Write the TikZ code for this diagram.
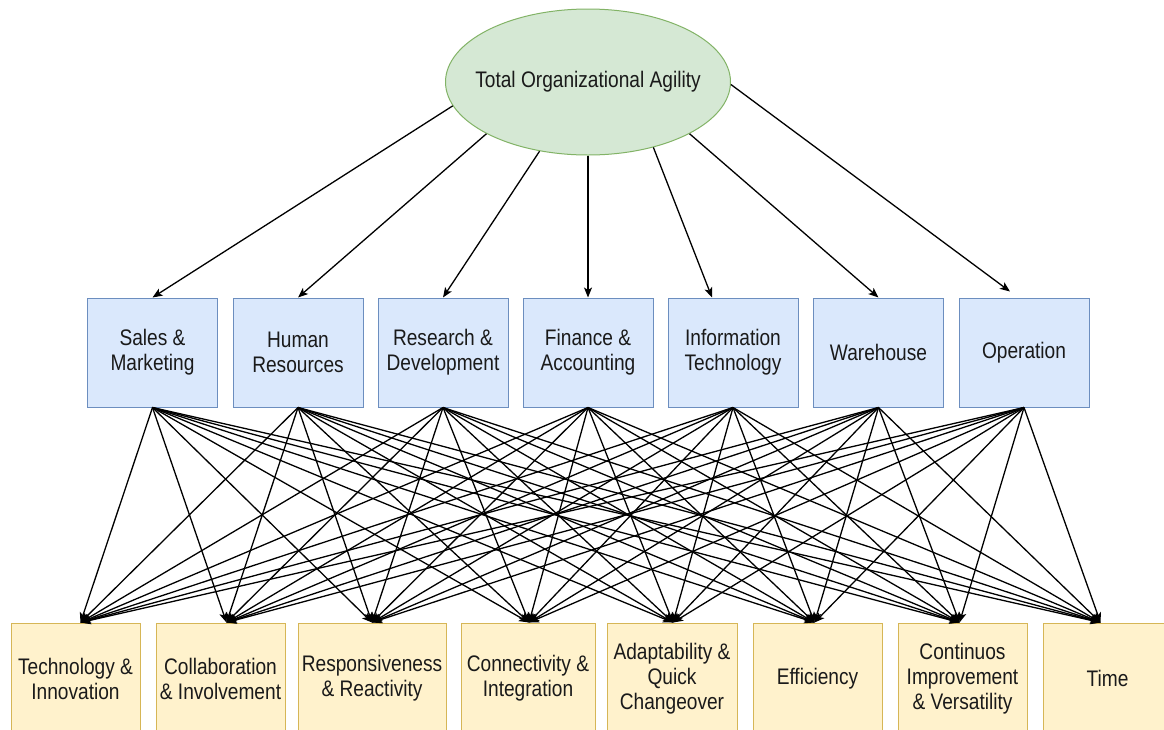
\documentclass[tikz,border=0pt]{standalone}
\usepackage{fontspec}
\setmainfont[FakeStretch=0.85]{Liberation Sans}
\usetikzlibrary{shapes.geometric,arrows.meta,calc}
\definecolor{elfill}{HTML}{D5E8D4}
\definecolor{elline}{HTML}{82B366}
\definecolor{bluefill}{HTML}{DAE8FC}
\definecolor{blueline}{HTML}{6C8EBF}
\definecolor{yelfill}{HTML}{FFF2CC}
\definecolor{yelline}{HTML}{D6B656}
\definecolor{txt}{HTML}{1A1A1A}
\begin{document}
\begin{tikzpicture}[x=1pt,y=-1pt,
  lbl/.style={font=\fontsize{22.5}{25}\selectfont, text=txt, align=center, inner sep=0pt},
  ell/.style={lbl, ellipse, draw=elline, fill=elfill, line width=1pt, inner xsep=-60pt, inner ysep=0pt, minimum width=285pt, minimum height=146pt},
  midbox/.style={lbl, rectangle, draw=blueline, fill=bluefill, line width=1pt, minimum width=130pt, minimum height=109pt},
  botbox/.style={lbl, rectangle, draw=yelline, fill=yelfill, line width=1pt, minimum height=111pt, minimum width=#1},
  arr/.style={-{Stealth[length=10pt,width=8pt,inset=2.5pt]}, line width=1.3pt, black}
]
\useasboundingbox (0,0) rectangle (1164,729);
\clip (0,0) rectangle (1164,729);

\node[ell] (e) at (588,82) {Total Organizational Agility};

\node[midbox] (m1) at (152.5,352.5) {Sales \&\\Marketing};
\node[midbox] (m2) at (298,352.5) {Human\\Resources};
\node[midbox] (m3) at (443,352.5) {Research \&\\Development};
\node[midbox] (m4) at (588,352.5) {Finance \&\\Accounting};
\node[midbox] (m5) at (733,352.5) {Information\\Technology};
\node[midbox] (m6) at (878.5,352.5) {Warehouse};
\node[midbox] (m7) at (1024,352.5) {Operation};

\node[botbox=129pt] (b1) at (75.5,678.5) {Technology \&\\Innovation};
\node[botbox=129pt] (b2) at (220.5,678.5) {Collaboration\\\& Involvement};
\node[botbox=148pt] (b3) at (372,678.5) {Responsiveness\\\& Reactivity};
\node[botbox=134pt] (b4) at (528,678.5) {Connectivity \&\\Integration};
\node[botbox=130pt] (b5) at (672,678.5) {Adaptability \&\\Quick\\Changeover};
\node[botbox=129pt] (b6) at (817.5,678.5) {Efficiency};
\node[botbox=129pt] (b7) at (962.5,678.5) {Continuos\\Improvement\\\& Versatility};
\node[botbox=129pt] (b8) at (1107.5,678.5) {Time};

\draw[arr] (e.190) -- (m1.north);
\draw[arr] (e.207) -- (m2.north);
\draw[arr] (e.235) -- (m3.north);
\draw[arr] (e.270) -- (m4.north);
\draw[arr] (e.315) -- ($(m5.north)+(-21,0)$);
\draw[arr] (e.333) -- (m6.north);
\draw[arr] (e.359) -- ($(m7.north)+(-14,-6)$);

\foreach \m in {1,...,7}
  \foreach \b/\dx in {1/5,2/6,3/0,4/1,5/1,6/-3,7/-3,8/-7}
    \draw[arr] (m\m.south) -- ($(b\b.north)+(\dx,0)$);
\end{tikzpicture}
\end{document}
